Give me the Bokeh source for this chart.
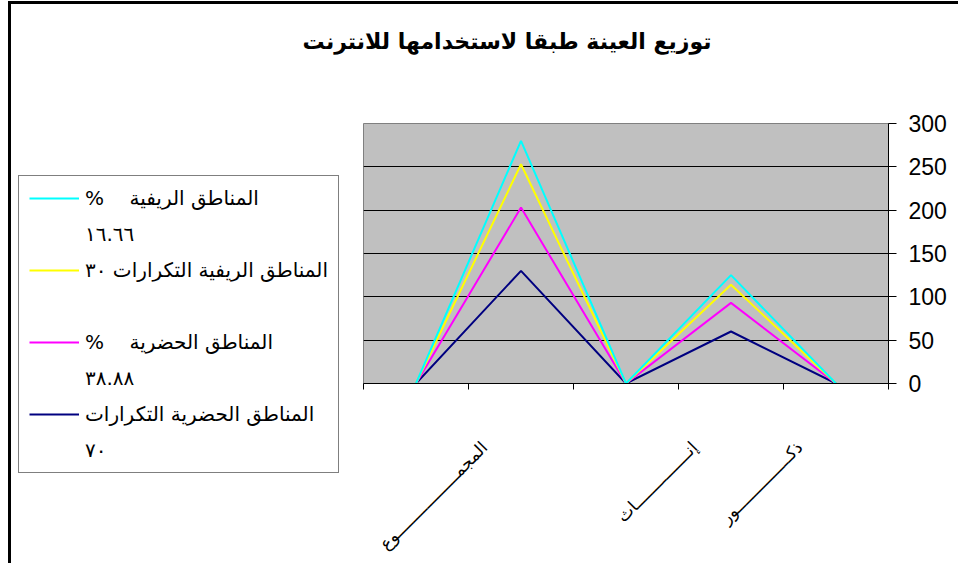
import math
from bokeh.plotting import figure
from bokeh.models import (Range1d, FixedTicker, Legend, LegendItem, Title,
                          ColumnDataSource)
from bokeh.layouts import column
from bokeh.embed import file_html
from bokeh.resources import INLINE

# ---------------- data (category order as in the sheet, right -> left) -------------
categories = ["ذكـــــــــــــــور", "إنـــــــــــــــاث", "", "المجمـــــــــــــــــوع", ""]
rural_pct = [0, 125, 0, 280, 0]      # المناطق الريفية % ١٦.٦٦
rural_cnt = [0, 114, 0, 253, 0]      # المناطق الريفية التكرارات ٣٠
urban_pct = [0, 93, 0, 203, 0]       # المناطق الحضرية % ٣٨.٨٨
urban_cnt = [0, 60, 0, 130, 0]       # المناطق الحضرية التكرارات ٧٠
y_ticks = [0, 50, 100, 150, 200, 250, 300]

# legend names, each as its (first line, second line)
series_names = [
    ("%    المناطق الريفية", "١٦.٦٦"),
    ("المناطق الريفية التكرارات ٣٠", " "),
    ("%    المناطق الحضرية", "٣٨.٨٨"),
    ("المناطق الحضرية التكرارات", "٧٠"),
]
series_values = [rural_pct, rural_cnt, urban_pct, urban_cnt]
series_colors = ["#00FFFF", "#FFFF00", "#FF00FF", "#000080"]

title_text = "توزيع العينة طبقا لاستخدامها للانترنت"

# ---------------- layout ----------------
n = len(categories)
xs = [n - i - 0.5 for i in range(n)]          # right-to-left category axis
LABEL_SHIFT = 0.35
label_ticks = [round(x - LABEL_SHIFT, 4) for x in xs]

ARABIC = "DejaVu Sans"
LATIN = "Liberation Sans"

p = figure(width=950, height=562, output_backend="svg", toolbar_location=None,
           x_range=Range1d(0, n), y_range=Range1d(0, 300),
           y_axis_location="right", x_axis_location="below",
           min_border_left=352, min_border_right=73,
           min_border_top=119, min_border_bottom=183)
p.styles = {"border-left": "3px solid black", "border-top": "3px solid black",
            "margin-left": "8px", "margin-top": "1px"}

p.background_fill_color = "#C0C0C0"
p.border_fill_color = "white"
p.outline_line_color = "#808080"
p.outline_line_width = 1

# spacer between frame and title, then the title itself (further out)
p.add_layout(Title(text=" ", text_font_size="13px", standoff=48), "above")
p.title.text = title_text
p.title.text_font = ARABIC
p.title.text_font_size = "22px"
p.title.text_font_style = "bold"
p.title.text_color = "black"
p.title.align = "right"
p.title.offset = 177
p.title.standoff = 10

# grid
p.xgrid.visible = False
p.ygrid.grid_line_color = "black"
p.ygrid.grid_line_width = 1
p.ygrid.ticker = FixedTicker(ticks=y_ticks)

# y axis (right)
ya = p.yaxis[0]
ya.ticker = FixedTicker(ticks=y_ticks)
ya.axis_line_color = "black"
ya.major_tick_line_color = "black"
ya.major_tick_in = 0
ya.major_tick_out = 8
ya.minor_tick_line_color = None
ya.major_label_standoff = 12
ya.major_label_text_font = LATIN
ya.major_label_text_font_size = "23px"
ya.major_label_text_color = "black"

# x axis: boundary tick marks as minor ticks, labels on major ticks
xa = p.xaxis[0]
xa.ticker = FixedTicker(ticks=label_ticks, minor_ticks=list(range(n + 1)))
xa.major_label_overrides = {t: c for t, c in zip(label_ticks, categories)}
xa.major_tick_line_color = None
xa.major_tick_in = 0
xa.major_tick_out = 0
xa.minor_tick_line_color = "black"
xa.minor_tick_in = 0
xa.minor_tick_out = 6
xa.axis_line_color = "black"
xa.major_label_orientation = math.pi / 4
xa.major_label_standoff = 55
xa.major_label_text_font = ARABIC
xa.major_label_text_font_size = "17px"
xa.major_label_text_color = "black"

# lines (drawn bottom series first)
for vals, col in list(zip(series_values, series_colors))[::-1]:
    src = ColumnDataSource(dict(x=xs, y=vals))
    p.line("x", "y", source=src, line_color=col, line_width=2)

# ---------------- legend (own small canvas pulled up over the page) ----------------
lf = figure(frame_width=330, frame_height=304, output_backend="svg",
            toolbar_location=None,
            x_axis_location=None, y_axis_location=None,
            x_range=Range1d(0, 1), y_range=Range1d(0, 1),
            min_border=0)
lf.title.visible = False
lf.outline_line_color = None
lf.xgrid.visible = False
lf.ygrid.visible = False
lf.background_fill_alpha = 0
lf.border_fill_alpha = 0
lf.styles = {"margin-top": "-388px", "margin-left": "18px"}

nan = float("nan")
blank = lf.line(x=[nan, nan], y=[nan, nan], line_alpha=0)
items = []
for (l1, l2), col in zip(series_names, series_colors):
    r = lf.line(x=[nan, nan], y=[nan, nan], line_color=col, line_width=2)
    items.append(LegendItem(label=l1, renderers=[r]))
    items.append(LegendItem(label=l2, renderers=[blank]))

legend = Legend(items=items, location="top_left")
legend.label_text_font = ARABIC
legend.label_text_font_size = "20px"
legend.label_text_color = "black"
legend.label_width = 242
legend.label_height = 24
legend.label_standoff = 6
legend.glyph_width = 50
legend.glyph_height = 24
legend.padding = 10
legend.spacing = 12
legend.margin = 0
legend.border_line_color = "black"
legend.border_line_width = 1
legend.background_fill_color = "white"
legend.background_fill_alpha = 1
lf.add_layout(legend, "center")

layout = column(p, lf)
open("out.html", "w").write(file_html(layout, INLINE))
